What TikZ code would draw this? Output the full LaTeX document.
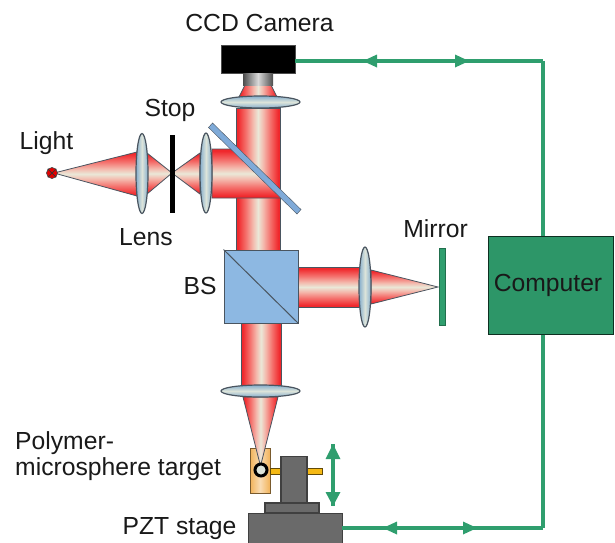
\documentclass[tikz,border=0pt]{standalone}
\usepackage{fontspec}
\setmainfont{Liberation Sans}
\usetikzlibrary{arrows.meta,decorations.markings,shapes.geometric}
\definecolor{beamred}{HTML}{F0282C}
\definecolor{beammid}{HTML}{F4706C}
\definecolor{beamlight}{HTML}{F4B8AC}
\definecolor{beampale}{HTML}{EAE8D8}
\definecolor{lensblue}{HTML}{86AECD}
\definecolor{lenspale}{HTML}{DCE4DA}
\definecolor{wiregreen}{HTML}{2F9E6E}
\definecolor{platec}{HTML}{7FAAD8}
\definecolor{cubec}{HTML}{8DB8E2}
\definecolor{edgeg}{HTML}{4A5560}
\definecolor{stageg}{HTML}{6A6A6A}
\definecolor{orangec}{HTML}{F2B35A}
\definecolor{rodc}{HTML}{F5B914}
\pgfdeclarehorizontalshading{beamX}{100bp}{color(0bp)=(beamred);color(27bp)=(beamred);color(36bp)=(beammid);color(44bp)=(beamlight);color(50bp)=(beampale);color(56bp)=(beamlight);color(64bp)=(beammid);color(73bp)=(beamred);color(100bp)=(beamred)}
\pgfdeclareverticalshading{beamY}{100bp}{color(0bp)=(beamred);color(27bp)=(beamred);color(36bp)=(beammid);color(44bp)=(beamlight);color(50bp)=(beampale);color(56bp)=(beamlight);color(64bp)=(beammid);color(73bp)=(beamred);color(100bp)=(beamred)}
\tikzset{
 x=1pt,y=-1pt,
 txt/.style={font=\fontsize{24.7}{27}\selectfont,inner sep=0pt,text=black!90},
 beamv/.style={draw=edgeg,line width=.8pt,shading=beamX},
 beamh/.style={draw=edgeg,line width=.8pt,shading=beamY},
 lensv/.style={ellipse,draw=edgeg,line width=1.2pt,left color=lensblue,right color=lensblue,middle color=lenspale,inner sep=0pt,minimum width=12pt,minimum height=80pt},
 lensh/.style={ellipse,draw=edgeg,line width=1.2pt,top color=lensblue,bottom color=lensblue,middle color=lenspale,inner sep=0pt,minimum width=79pt,minimum height=12pt},
 wire/.style={draw=wiregreen,line width=3.4pt},
 block/.style={draw=black!75,line width=1.1pt,fill=stageg,inner sep=0pt},
}
\begin{document}
\begin{tikzpicture}
\useasboundingbox (0,0) rectangle (615,542);
% target behind the focused beam
\draw[black!50!orangec,line width=.8pt,left color=orangec,right color=orangec,middle color=orangec!45] (250,448) rectangle (270,493);
% beams
\draw[beamv] (236,108) rectangle (280,250);
\draw[beamv] (245,85) -- (271,85) -- (277,97) -- (239,97) -- cycle;
\draw[beamh] (212,149) -- (233,149) -- (282,198) -- (212,198) -- cycle;
\draw[beamv] (241,323) rectangle (281,386);
\draw[beamv] (243,397) -- (278,397) -- (260.5,466) -- cycle;
\draw[beamh] (298,267) rectangle (360,307);
\draw[beamh] (371,270) -- (438,287) -- (371,304) -- cycle;
\draw[beamh] (54,173) -- (137,152) -- (137,196) -- cycle;
\draw[beamh] (147,153) -- (172,173) -- (147,194) -- cycle;
\draw[beamh] (172,173) -- (200,153) -- (200,194) -- cycle;
% lenses
\node[lensv] (lensA) at (142,173.5) {};
\node[lensv] (lensB) at (206,173) {};
\node[lensv] (lensC) at (365,287) {};
\node[lensh] (lensD) at (260.5,102) {};
\node[lensh] (lensE) at (260.5,391) {};
% stop, light
\fill[black] (170,135) rectangle (174.5,213);
\node[circle,draw=black!70,line width=.7pt,fill=red!90!black,minimum size=11pt,inner sep=0pt] (light) at (52,173) {};
\draw[black!80,line width=.7pt] (light.north west) -- (light.south east) (light.north east) -- (light.south west);
% plate
\fill[platec,draw=edgeg,line width=.4pt] (208.5,127.5) -- (212.5,123) -- (301,209.5) -- (297,214) -- cycle;
% cube
\node[draw=edgeg,line width=1pt,fill=cubec,minimum width=74pt,minimum height=73pt,inner sep=0pt] (cube) at (261,286.5) {};
\draw[edgeg,line width=1pt] (cube.north west) -- (cube.south east);
% mirror
\node[draw=wiregreen!70!black,line width=.4pt,fill=wiregreen,minimum width=5.5pt,minimum height=77pt,inner sep=0pt] (mirror) at (442.3,286.5) {};
% camera
\node[fill=black,draw=black!70,line width=.5pt,minimum width=74pt,minimum height=28pt,inner sep=0pt] (camera) at (258,59) {};
\shade[left color=black!70,right color=black!70,middle color=black!15] (243,73) rectangle (273,85);
% computer
\node[draw=black!70!wiregreen,line width=1pt,fill=wiregreen!95!black,minimum width=125pt,minimum height=98pt,inner sep=0pt,txt] (computer) at (550.5,285) {\hspace*{-5pt}Computer};
% stage
\fill[rodc,draw=black!60!rodc,line width=.4pt] (270,468.5) rectangle (322,474);
\node[block,minimum width=26pt,minimum height=47pt] (post) at (294,480) {};
\node[block,minimum width=54pt,minimum height=10pt] (plat) at (292,508) {};
\node[block,minimum width=94pt,minimum height=32pt,anchor=north west] (stage) at (248,513) {};
\node[circle,draw=black,line width=3pt,fill=lenspale,minimum size=12pt,inner sep=0pt] (ring) at (261,470) {};
% wires
\coordinate (c1) at (543,61);
\coordinate (c2) at (543,528);
\coordinate (s1) at (342,528);
\coordinate (k1) at (295,61);
\draw[wire,postaction={decorate},decoration={markings,
  mark=at position 75pt with {\fill[wiregreen] (-7,0) -- (7,-6.5) -- (7,6.5) -- cycle;},
  mark=at position 167pt with {\fill[wiregreen] (7,0) -- (-7,-6.5) -- (-7,6.5) -- cycle;}}]
  (k1) -- (c1);
\draw[wire] (c1) -- (computer.north -| c1);
\draw[wire] (computer.south -| c2) -- (c2);
\draw[wire,postaction={decorate},decoration={markings,
  mark=at position 48pt with {\fill[wiregreen] (-7,0) -- (7,-6.5) -- (7,6.5) -- cycle;},
  mark=at position 128pt with {\fill[wiregreen] (7,0) -- (-7,-6.5) -- (-7,6.5) -- cycle;}}]
  (s1) -- (c2);
% double arrow
\coordinate (d1) at (333,444);
\coordinate (d2) at (333,506);
\draw[wiregreen,line width=3.2pt] (d1) -- (d2);
\fill[wiregreen] (d1) -- (340.5,459) -- (325.5,459) -- cycle;
\fill[wiregreen] (d2) -- (340.5,492) -- (325.5,492) -- cycle;
% labels
\node[txt] (tccd) at (259.5,23) {CCD Camera};
\node[txt] (tstop) at (170,110) {Stop};
\node[txt] (tlight) at (46.5,143) {Light};
\node[txt] (tlens) at (146,237) {Lens};
\node[txt] (tbs) at (200,286) {BS};
\node[txt] (tmirror) at (435.5,229) {Mirror};
\node[txt,anchor=west] (tpoly) at (15,443) {Polymer-};
\node[txt,anchor=west] (tmicro) at (15,469) {microsphere target};
\node[txt] (tpzt) at (179.5,529) {PZT stage};
\end{tikzpicture}
\end{document}
